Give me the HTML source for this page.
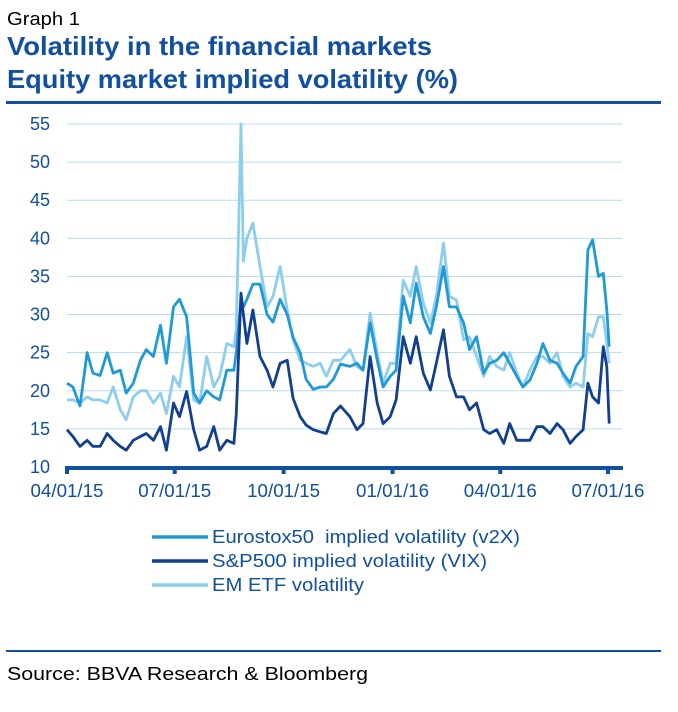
<!DOCTYPE html>
<html><head><meta charset="utf-8"><style>
body{margin:0;background:#fff;width:678px;height:707px;overflow:hidden;font-family:"Liberation Sans",Arial,sans-serif;}
</style></head><body>
<svg width="678" height="707" viewBox="0 0 678 707" xmlns="http://www.w3.org/2000/svg" font-family="Liberation Sans, Arial, sans-serif">
<text x="7" y="25" font-size="18" fill="#000" textLength="73" lengthAdjust="spacingAndGlyphs">Graph 1</text>
<text x="7" y="55" font-size="26" font-weight="bold" fill="#1150a0" textLength="425" lengthAdjust="spacingAndGlyphs">Volatility in the financial markets</text>
<text x="7" y="88" font-size="26" font-weight="bold" fill="#1150a0" textLength="451" lengthAdjust="spacingAndGlyphs">Equity market implied volatility (%)</text>
<rect x="6" y="101" width="655" height="3" fill="#1150a0"/>
<g id="grid"></g>
<g id="yticks"></g>
<g id="series"></g>
<rect x="66" y="466" width="557" height="4" fill="#1150a0"/>
<g id="xticks"></g>
<g>
<line x1="152" y1="537" x2="208" y2="537" stroke="#1f9ad6" stroke-width="3.5"/>
<text x="212" y="543" font-size="18" fill="#1150a0" textLength="308" lengthAdjust="spacingAndGlyphs" xml:space="preserve">Eurostox50  implied volatility (v2X)</text>
<line x1="152" y1="561" x2="208" y2="561" stroke="#123f90" stroke-width="3.5"/>
<text x="212" y="567" font-size="18" fill="#1150a0" textLength="275" lengthAdjust="spacingAndGlyphs">S&amp;P500 implied volatility (VIX)</text>
<line x1="152" y1="585" x2="208" y2="585" stroke="#8dcdee" stroke-width="3.5"/>
<text x="212" y="591" font-size="18" fill="#1150a0" textLength="152" lengthAdjust="spacingAndGlyphs">EM ETF volatility</text>
</g>
<rect x="6" y="650" width="655" height="2" fill="#1150a0"/>
<text x="7" y="680" font-size="18" fill="#000" textLength="361" lengthAdjust="spacingAndGlyphs">Source: BBVA Research &amp; Bloomberg</text>
</svg>
<script>
const days=[0,5,11,17,22,28,34,39,45,50,56,62,67,73,79,84,90,95,101,107,112,118,124,129,135,141,143,147,149,152,157,163,169,174,180,186,191,197,202,208,214,219,225,231,239,245,250,256,262,267,273,278,284,290,295,301,307,312,318,323,329,335,340,346,352,357,363,369,374,380,385,391,397,402,408,414,419,425,430,436,440,444,449,453,456,458];
const v2x=[21,20.5,18,25,22.3,22,25,22.3,22.7,19.7,21,24,25.4,24.5,28.6,23.6,31,32,29.7,19.7,18.4,20,19.2,18.8,22.7,22.7,25,32,31,32,34,34,30,29,32,30,27,25,21.5,20.2,20.5,20.5,21.5,23.5,23.2,23.6,22.7,28.9,24,20.5,21.9,22.7,32.4,28.9,34.1,29.7,27.5,31,36.3,31,31,28.9,25.4,27.1,22.3,23.6,24,25,23.6,21.9,20.5,21.4,23.6,26.2,24,23.6,22.3,21,23.2,24.5,38.5,39.8,35,35.4,30.6,25.8];
const vix=[14.9,14,12.7,13.5,12.7,12.7,14.4,13.5,12.7,12.2,13.5,14,14.4,13.5,15.3,12.2,18.4,16.6,19.9,14.9,12.2,12.7,15.3,12.2,13.5,13.1,17,32.8,30,26.2,30.6,24.5,22.7,20.5,23.6,24,19,16.6,15.5,14.9,14.6,14.4,17,18,16.6,14.9,15.7,24.5,18.4,15.7,16.6,18.8,27.1,23.6,27.1,22.3,20.1,23.6,28,21.9,19.2,19.2,17.5,18.4,14.9,14.4,14.9,13.1,15.7,13.5,13.5,13.5,15.3,15.3,14.4,15.7,14.9,13.1,14,14.9,21,19.2,18.4,25.8,23.2,15.7];
const em=[18.8,18.8,18.4,19.2,18.8,18.8,18.4,20.5,17.5,16.2,19.2,20,20,18.4,19.7,17,21.9,20.5,27.1,18.8,18.4,24.5,20.5,21.9,26.2,25.8,28,55,37,40,42,36.3,31,32.4,36.3,30.6,26.7,24,23.6,23.2,23.6,21.9,24,24,25.4,23.2,22.7,30.2,25,21,23.6,23.6,34.5,32.4,36.3,31.5,28.9,32.4,39.4,32.4,31.9,26.7,27.1,24.5,21.9,24.5,23.2,22.7,25,22.3,20.5,22.7,24.5,24.5,23.6,25,21.9,20.5,21,20.5,27.5,27.1,29.7,29.7,26.2,23.6];
const yTicks=[10,15,20,25,30,35,40,45,50,55];
const xTickDays=[0,91,183,275,366,457];
const xTickLabels=["04/01/15","07/01/15","10/01/15","01/01/16","04/01/16","07/01/16"];
const NS="http://www.w3.org/2000/svg";
const X0=67,X1=608,D1=457,Y0=467,Y1=124,V0=10,V1=55;
function xs(d){return X0+(d/D1)*(X1-X0);}
function ys(v){return Y0-(v-V0)/(V1-V0)*(Y0-Y1);}
function mk(tag,attrs,parent){const e=document.createElementNS(NS,tag);for(const k in attrs)e.setAttribute(k,attrs[k]);parent.appendChild(e);return e;}
const grid=document.getElementById('grid'),yt=document.getElementById('yticks'),xt=document.getElementById('xticks'),ser=document.getElementById('series');
yTicks.forEach(v=>{
  if(v>V0){const l=mk('line',{x1:67,x2:622,y1:ys(v),y2:ys(v),stroke:'#b8dcef','stroke-width':1},grid);
  
  }
  const t=mk('text',{x:50,y:ys(v)+6,'font-size':18,fill:'#1150a0','text-anchor':'end'},yt);
  t.textContent=v;
  
  
});
xTickDays.forEach((d,i)=>{
  const m=mk('rect',{x:xs(d)-2,y:466,width:4,height:8,fill:'#1150a0'},xt);
  
  
  const t=mk('text',{x:xs(d),y:497,'font-size':18,fill:'#1150a0','text-anchor':'middle',textLength:73,lengthAdjust:'spacingAndGlyphs'},xt);
  t.textContent=xTickLabels[i];
  
  
});
function line(vals,color,name){
  const p=vals.map((v,i)=>xs(days[i]).toFixed(1)+','+ys(v).toFixed(1)).join(' ');
  const pl=mk('polyline',{points:p,fill:'none',stroke:color,'stroke-width':2.8,'stroke-linejoin':'round'},ser);
  
  
}
line(em,'#8dcdee','line-em-etf');
line(v2x,'#1f9ad6','line-v2x');
line(vix,'#123f90','line-vix');
</script>
</body></html>
